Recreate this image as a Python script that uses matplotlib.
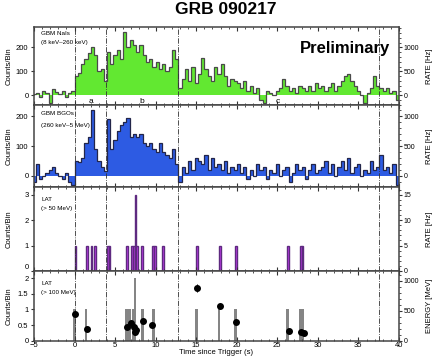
import numpy as np
import matplotlib.pyplot as plt
from matplotlib.ticker import MultipleLocator

plt.rcParams['font.family'] = ['Liberation Sans', 'DejaVu Sans']

# ── GBM light curves: 0.4 s bins starting at t = -5.2 s ───────────────────────
bin0, binw = -5.2, 0.4
nai_counts = [
    5, 10, -8, 20, 10, -30, 25, 15, 5, 20, -5, 10, 20,                        # -5.2 .. 0
    80, 95, 130, 150, 175, 200, 170, 100, 110, 60,                            # a
    180, 130, 170, 190, 150, 265, 200, 230, 210, 180, 210, 170, 140, 150,
    120, 140, 110, 130, 100, 120, 190, 150,                                   # b
    30, 70, 110, 60, 120, 50, 90, 155, 110, 80, 60, 120, 90, 130, 80, 40, 70, 60,
    50, 30, 60, 20, 40, 10, 30, -20, -30, 20, 10, 0, 20, 30, 70, 40, 20, 30,
    10, 40, 30, 20, 40, 20, 50,
    30, 40, 20, 35, 50, 20, 40, 60, 80, 90, 60, 40, 20, 0, -30, 10, 30, 80,
    40, 30, 20, 30, 10, 20, -20,
]
bgo_counts = [
    -20, 40, -10, 0, 10, 20, 30, 10, 0, -10, 10, -20, -30,
    50, 45, 60, 110, 130, 220, 90, 50, 30, 15,
    190, 90, 120, 150, 170, 180, 195, 130, 140, 130, 140, 110, 100, 110,
    90, 80, 110, 80, 70, 60, 90, 40,
    -20, 30, 10, 50, 20, 60, 50, 40, 70, 20, 60, 30, 40, 20, 50, 10, 30, 20,
    40, 10, 30, -10, 20, 0, 40, 20, 30, -10, 20, 10, 40, 0, 20, 30, -20, 10,
    40, 20, 30, -10, 20, 40, 10,
    20, 30, 50, 10, 40, 0, 30, 50, 20, 60, 10, 30, 40, 0, 20, 10, 50, 20,
    30, 70, 20, 30, 10, 40, -30,
]

# ── LAT > 50 MeV: 0.2 s bins (left edge, counts) ──────────────────────────────
lat50_t = [0.0, 1.4, 2.0, 2.4, 4.0, 4.2, 6.4, 7.0, 7.2, 7.4, 7.6, 8.2, 9.6, 9.8,
           10.8, 15.0, 17.8, 19.8, 26.2, 27.8, 28.0]
lat50_n = [1, 1, 1, 1, 1, 1, 1, 1, 1, 3, 1, 1, 1, 1, 1, 1, 1, 1, 1, 1, 1]

# ── LAT > 100 MeV counts and photon energies ──────────────────────────────────
lat100_t = [0.0, 1.4, 6.4, 6.8, 7.2, 7.45, 8.4, 9.7, 15.0, 17.8, 19.8, 26.3, 27.8, 28.15]
lat100_n = [1, 1, 1, 1, 1, 2, 1, 1, 1, 1, 1, 1, 1, 1]
ev_t = [0.1, 1.5, 6.5, 6.9, 7.3, 7.4, 7.6, 8.45, 9.6, 15.1, 17.9, 19.9, 26.4, 27.9, 28.25]
ev_mev = [450, 200, 225, 290, 225, 145, 180, 320, 265, 875, 570, 315, 160, 135, 130]
ev_err = [40, 20, 20, 25, 20, 15, 18, 30, 25, 60, 50, 30, 15, 15, 15]

intervals = [0.0, 3.9, 12.8, 37.6]
interval_names = ['a', 'b', 'c']
interval_pos = [2.0, 8.3, 25.0]

fig = plt.figure(figsize=(4.36, 3.57), dpi=100)
L, W = 0.078, 0.837
ax1 = fig.add_axes([L, 0.706, W, 0.218])
ax2 = fig.add_axes([L, 0.476, W, 0.230])
ax3 = fig.add_axes([L, 0.241, W, 0.235])
ax4 = fig.add_axes([L, 0.046, W, 0.195])
axes = [ax1, ax2, ax3, ax4]

edges = bin0 + binw * np.arange(len(nai_counts) + 1)
ax1.stairs(nai_counts, edges, fill=True, color='#62e831', baseline=0)
ax1.stairs(nai_counts, edges, color='#4a4a4a', lw=0.9, baseline=None)
ax2.stairs(bgo_counts, edges, fill=True, color='#2d5be3', baseline=0)
ax2.stairs(bgo_counts, edges, color='#23264a', lw=0.9, baseline=None)

ax3.bar(lat50_t, lat50_n, width=0.2, align='edge', color='#c83cf2',
        edgecolor='#5e2a80', lw=1.0)
ax4.bar(lat100_t, lat100_n, width=0.34, align='center', color='#858585')

ax1.set_ylim(-40, 285)
ax2.set_ylim(-38, 238)
ax3.set_ylim(0, 3.3)
ax4.set_ylim(0, 2.24)

yt = [[0, 100, 200], [0, 100, 200], [0, 1, 2, 3], [0, 0.5, 1, 1.5, 2]]
ylabs = [['0', '100', '200'], ['0', '100', '200'], ['0', '1', '2', '3'],
         ['0', '0.5', '1', '1.5', '2']]
rlabels = ['RATE [Hz]', 'RATE [Hz]', 'RATE [Hz]', 'ENERGY [MeV]']
rticks = [[0, 500, 1000], [0, 500, 1000], [0, 5, 10, 15], [0, 500, 1000]]

for i, ax in enumerate(axes):
    ax.set_xlim(-5, 40)
    ax.xaxis.set_major_locator(MultipleLocator(5))
    ax.xaxis.set_minor_locator(MultipleLocator(1))
    ax.tick_params(axis='x', which='both', direction='in', top=True, bottom=True,
                   color='#333333', labelsize=5.5, pad=1)
    ax.tick_params(axis='x', which='major', length=3)
    ax.tick_params(axis='x', which='minor', length=1.5)
    if i < 3:
        ax.tick_params(axis='x', labelbottom=False)
    ax.set_yticks(yt[i], ylabs[i])
    ax.tick_params(axis='y', which='major', direction='out', length=2.5,
                   labelsize=5.5, pad=1.5, color='#333333')
    ax.set_ylabel('Counts/Bin', fontsize=5.5, labelpad=2)
    ax.yaxis.set_label_coords(-0.058, 0.5)
    for s in ax.spines.values():
        s.set_color('#444444')
        s.set_linewidth(1.1)
    for t in intervals:
        ax.axvline(t, color='#333333', lw=0.6, ls='-.', zorder=5)

    rx = ax.twinx()
    lo, hi = ax.get_ylim()
    if i < 3:
        rx.set_ylim(lo * 5, hi * 5)
    else:
        rx.set_ylim(0, hi * 518)
    rx.set_yticks(rticks[i])
    rx.yaxis.set_minor_locator(MultipleLocator(rticks[i][1] / 5))
    rx.tick_params(axis='y', which='major', direction='out', length=2.5,
                   labelsize=5, pad=1, color='#333333')
    rx.tick_params(axis='y', which='minor', direction='out', length=1.2,
                   color='#333333')
    rx.set_ylabel(rlabels[i], fontsize=5.5, labelpad=3)
    rx.yaxis.set_label_coords(1.075, 0.5)
    for s in rx.spines.values():
        s.set_visible(False)
    if i == 3:
        rx.errorbar(ev_t, ev_mev, yerr=ev_err, fmt='o', color='black', ms=4,
                    elinewidth=0.7, capsize=0, zorder=6)

# bottom "0" of the LAT panel sits on the panel seam
ax3.get_yticklabels()[0].set_verticalalignment('bottom')

fig.text(L + W / 2, 0.003, 'Time since Trigger (s)', fontsize=5.5,
         ha='center', va='bottom')

for name, t in zip(interval_names, interval_pos):
    ax1.text(t, -39, name, fontsize=6, ha='center', va='bottom', zorder=7)

ax1.text(0.02, 0.92, 'GBM NaIs', transform=ax1.transAxes, fontsize=4.5, va='center')
ax1.text(0.02, 0.80, '(8 keV\u2013260 keV)', transform=ax1.transAxes, fontsize=4.5, va='center')
ax2.text(0.02, 0.89, 'GBM BGOs', transform=ax2.transAxes, fontsize=4.5, va='center')
ax2.text(0.02, 0.75, '(260 keV\u20135 MeV)', transform=ax2.transAxes, fontsize=4.5, va='center')
ax3.text(0.02, 0.85, 'LAT', transform=ax3.transAxes, fontsize=4.5, va='center')
ax3.text(0.02, 0.74, '(> 50 MeV)', transform=ax3.transAxes, fontsize=4.5, va='center')
ax4.text(0.02, 0.82, 'LAT', transform=ax4.transAxes, fontsize=4.5, va='center')
ax4.text(0.02, 0.69, '(> 100 MeV)', transform=ax4.transAxes, fontsize=4.5, va='center')

ax1.text(0.975, 0.73, 'Preliminary', transform=ax1.transAxes, fontsize=12,
         fontweight='bold', ha='right', va='center')
fig.text(0.518, 0.972, 'GRB 090217', fontsize=12.5, fontweight='bold',
         ha='center', va='center')

fig.savefig('out.png', dpi=100)
